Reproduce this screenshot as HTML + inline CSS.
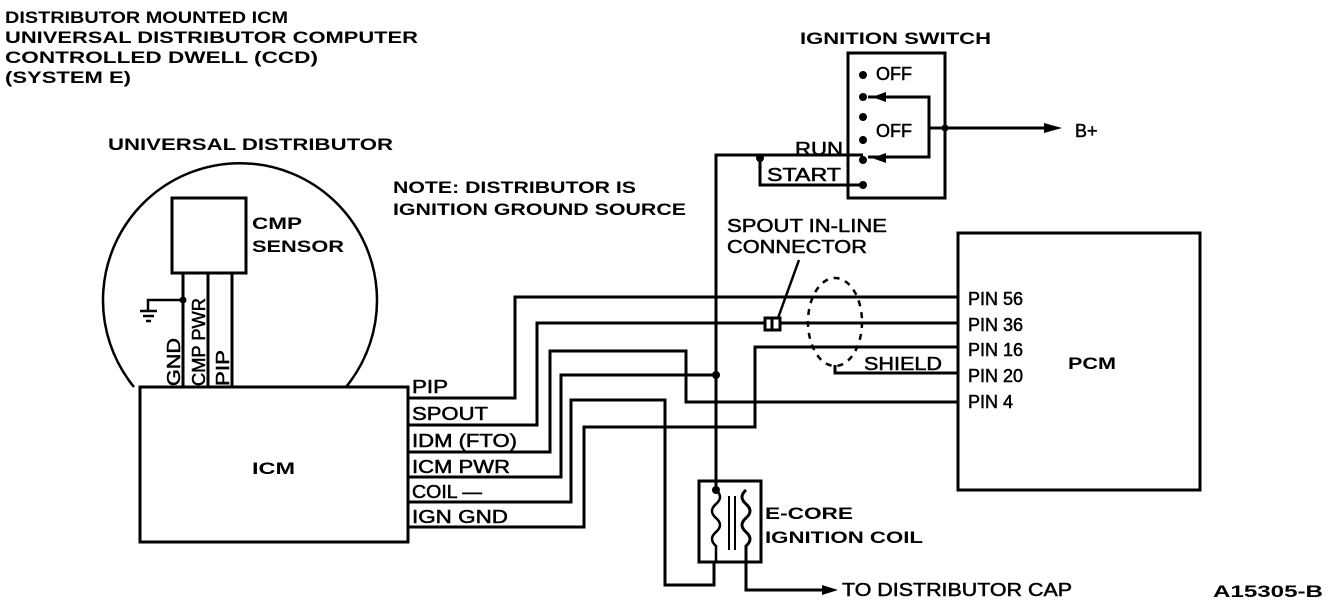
<!DOCTYPE html>
<html><head><meta charset="utf-8"><style>
html,body{margin:0;padding:0;background:#fff;}
svg{display:block;}
text{font-family:"Liberation Sans",Arial,sans-serif;fill:#000;}
.b{font-weight:bold;font-size:17px;}
.n{font-size:18px;stroke:#000;stroke-width:0.5;}
</style></head><body>
<svg width="1328" height="608" viewBox="0 0 1328 608" xmlns="http://www.w3.org/2000/svg">
<g class="b">
<text x="5" y="23" textLength="283" lengthAdjust="spacingAndGlyphs">DISTRIBUTOR MOUNTED ICM</text>
<text x="5" y="43" textLength="413" lengthAdjust="spacingAndGlyphs">UNIVERSAL DISTRIBUTOR COMPUTER</text>
<text x="5" y="63" textLength="313" lengthAdjust="spacingAndGlyphs">CONTROLLED DWELL (CCD)</text>
<text x="5" y="83" textLength="126" lengthAdjust="spacingAndGlyphs">(SYSTEM E)</text>
<text x="108" y="150" textLength="285" lengthAdjust="spacingAndGlyphs">UNIVERSAL DISTRIBUTOR</text>
<text x="800" y="44" textLength="191" lengthAdjust="spacingAndGlyphs">IGNITION SWITCH</text>
<text x="393" y="193" textLength="243" lengthAdjust="spacingAndGlyphs">NOTE: DISTRIBUTOR IS</text>
<text x="393" y="215" textLength="293" lengthAdjust="spacingAndGlyphs">IGNITION GROUND SOURCE</text>
<text x="252" y="229" textLength="50" lengthAdjust="spacingAndGlyphs">CMP</text>
<text x="252" y="252" textLength="92" lengthAdjust="spacingAndGlyphs">SENSOR</text>
<text x="252" y="474" textLength="43" lengthAdjust="spacingAndGlyphs">ICM</text>
<text x="1068" y="369" textLength="48" lengthAdjust="spacingAndGlyphs">PCM</text>
<text x="765" y="519" textLength="88" lengthAdjust="spacingAndGlyphs">E-CORE</text>
<text x="765" y="543" textLength="158" lengthAdjust="spacingAndGlyphs">IGNITION COIL</text>
<text x="1213" y="597" textLength="110" lengthAdjust="spacingAndGlyphs">A15305-B</text>
</g>
<g class="n">
<text x="876" y="80">OFF</text>
<text x="876" y="137">OFF</text>
<text x="795" y="155" textLength="48" lengthAdjust="spacingAndGlyphs">RUN</text>
<text x="767" y="181" textLength="74" lengthAdjust="spacingAndGlyphs">START</text>
<text x="1075" y="137">B+</text>
<text x="727" y="232" textLength="160" lengthAdjust="spacingAndGlyphs">SPOUT IN-LINE</text>
<text x="727" y="253" textLength="140" lengthAdjust="spacingAndGlyphs">CONNECTOR</text>
<text x="864" y="370" textLength="78" lengthAdjust="spacingAndGlyphs">SHIELD</text>
<text x="968" y="305">PIN 56</text>
<text x="968" y="331">PIN 36</text>
<text x="968" y="356">PIN 16</text>
<text x="968" y="382">PIN 20</text>
<text x="968" y="408">PIN 4</text>
<text x="412" y="393" textLength="36" lengthAdjust="spacingAndGlyphs">PIP</text>
<text x="412" y="420" textLength="76" lengthAdjust="spacingAndGlyphs">SPOUT</text>
<text x="412" y="447" textLength="105" lengthAdjust="spacingAndGlyphs">IDM (FTO)</text>
<text x="412" y="473" textLength="98" lengthAdjust="spacingAndGlyphs">ICM PWR</text>
<text x="412" y="498" textLength="70" lengthAdjust="spacingAndGlyphs">COIL —</text>
<text x="412" y="523" textLength="96" lengthAdjust="spacingAndGlyphs">IGN GND</text>
<text x="842" y="596" textLength="230" lengthAdjust="spacingAndGlyphs">TO DISTRIBUTOR CAP</text>
<text transform="translate(180,386) rotate(-90)" textLength="48" lengthAdjust="spacingAndGlyphs">GND</text>
<text transform="translate(205,386) rotate(-90)" textLength="88" lengthAdjust="spacingAndGlyphs">CMP PWR</text>
<text transform="translate(229,386) rotate(-90)" textLength="36" lengthAdjust="spacingAndGlyphs">PIP</text>
</g>
<g fill="none" stroke="#000" stroke-width="3">
<path d="M134,387 A137,137 0 1 1 346,387" stroke-width="2.5"/>
<rect x="140" y="387" width="268" height="155"/>
<rect x="172" y="198" width="74" height="75"/>
<path d="M183,273V387M208,273V387M232,273V387"/>
<path d="M183,300H148V310M140,311H157M143,316H154M146,321H151" stroke-width="2.5"/>
<path d="M408,398H515V297H958"/>
<path d="M408,425H537V323H958"/>
<path d="M408,452H550V351H686V402H958"/>
<path d="M408,477H561V375H716"/>
<path d="M408,502H571V400H665V585H714V562"/>
<path d="M408,527H584V427H755V347H958"/>
<path d="M835,365V373H958"/>
<path d="M716,490V155H863"/>
<path d="M760,158V185H863"/>
<rect x="848" y="53" width="97" height="145"/>
<path d="M868,97H929V157H868"/>
<path d="M929,128H1050"/>
<rect x="958" y="233" width="242" height="257"/>
<rect x="765" y="318" width="15" height="12" fill="#fff"/>
<path d="M772,318V330"/>
<path d="M778,318L799,260" stroke-width="2.5"/>
<rect x="699" y="481" width="62" height="81"/>
<path d="M716,490Q724,497 716,504Q708,511 716,518Q724,525 716,532Q708,539 716,546V562" stroke-width="2.5"/>
<path d="M729,496V550M735,496V550" stroke-width="2"/>
<path d="M746,490Q738,497 746,504Q754,511 746,518Q738,525 746,532Q754,539 746,546V590H825"/>
<ellipse cx="835" cy="322" rx="27" ry="44" stroke-width="2.5" stroke-dasharray="6,6"/>
</g>
<g fill="#000">
<circle cx="716" cy="375" r="4"/><circle cx="760" cy="158" r="4"/><circle cx="716" cy="490" r="4"/><circle cx="183" cy="300" r="3.5"/>
<circle cx="863" cy="75" r="4"/><circle cx="863" cy="97" r="4"/><circle cx="863" cy="117" r="4"/><circle cx="863" cy="140" r="4"/><circle cx="863" cy="160" r="4"/><circle cx="863" cy="185" r="4"/>
<circle cx="945" cy="128" r="3.5"/>
<polygon points="1062,128 1044,123 1044,133"/>
<polygon points="838,590 822,585 822,595"/>
<polygon points="872,97 886,92 886,102"/>
<polygon points="872,158 886,153 886,163"/>
</g>
</svg>
</body></html>
